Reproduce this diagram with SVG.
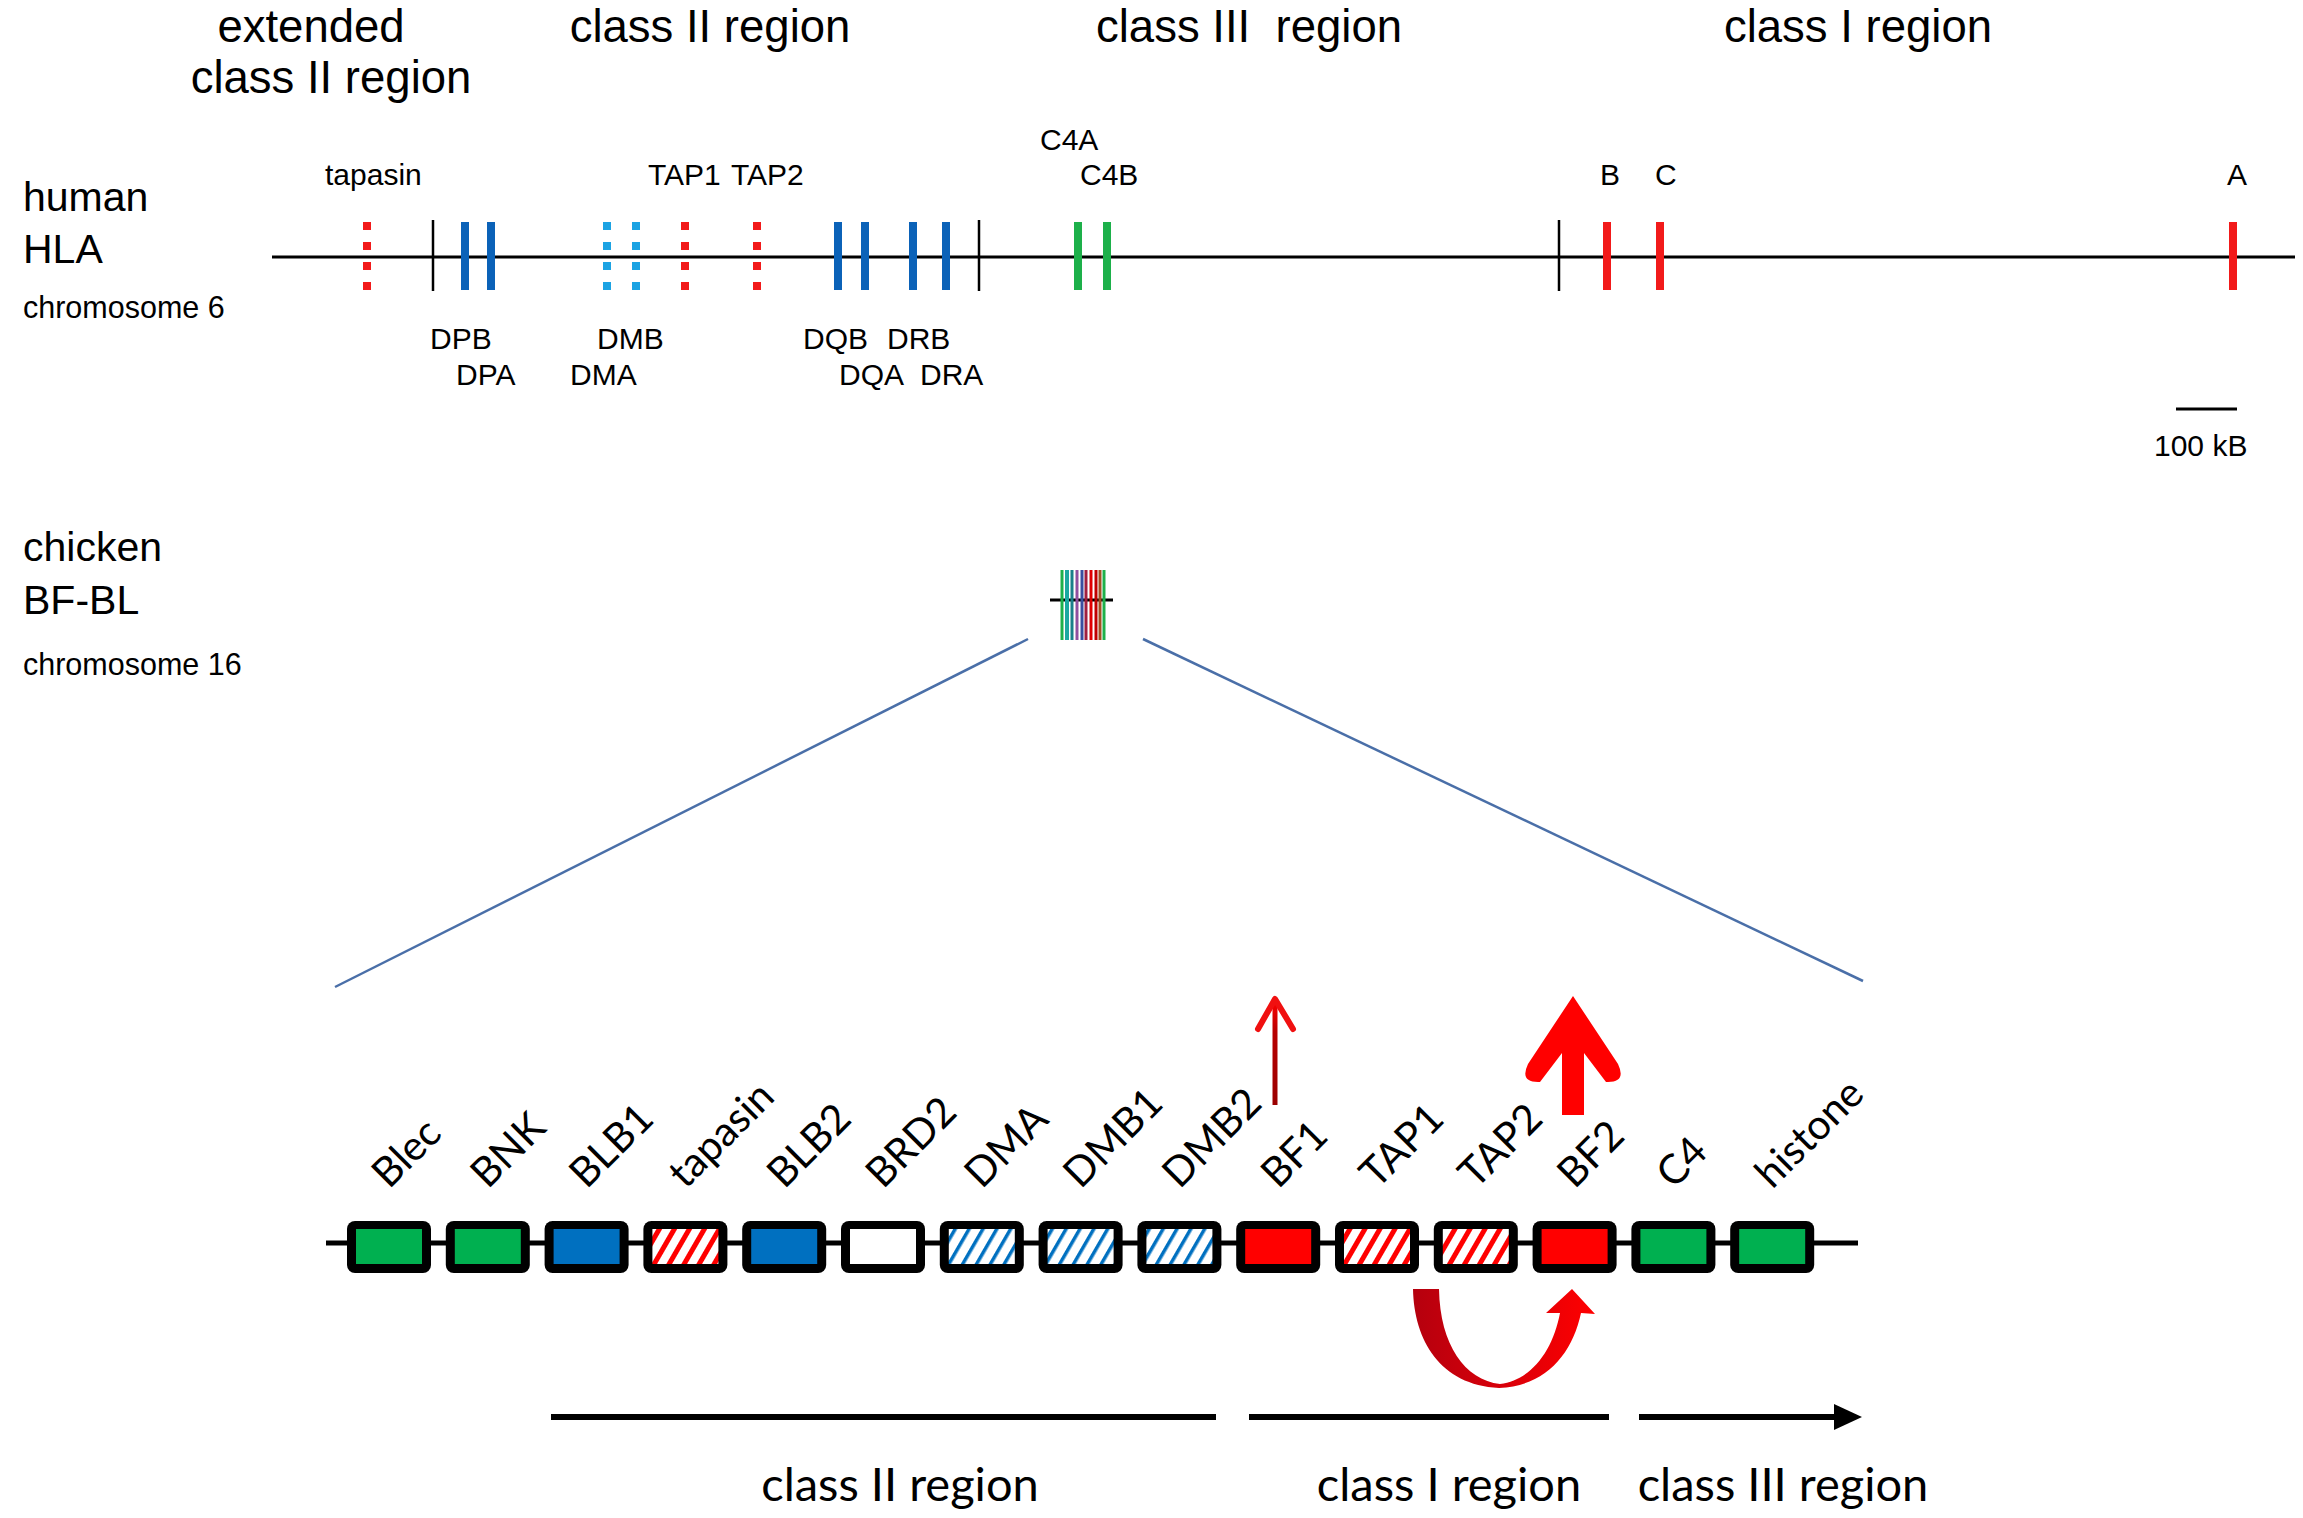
<svg xmlns="http://www.w3.org/2000/svg" width="2303" height="1518" viewBox="0 0 2303 1518">
<style>
.t{font-family:"Liberation Sans",Arial,sans-serif;fill:#000}
.title{font-size:45.5px;text-anchor:middle}
.sp{font-size:41px}
.chr{font-size:30.5px}
.gl{font-size:30px}
.cal{font-family:Lato,"Liberation Sans",sans-serif;fill:#000}
.glab{font-size:41px}
.reg{font-size:47px;text-anchor:middle}
.tick{stroke:#000;stroke-width:2.5}
.bar{stroke-width:8;fill:none}
.dot{stroke-dasharray:8 12}
.red{stroke:#F21A1A}
.dblue{stroke:#0B62B8}
.lblue{stroke:#1CA3E3}
.green{stroke:#1DB04A}
.box{fill:#000}
.fg{fill:#00B050}
.fb{fill:#0070C0}
.fr{fill:#FF0000}
.fw{fill:#FFFFFF}
.fhr{fill:url(#hatchRed)}
.fhb{fill:url(#hatchBlue)}
.zoom{stroke:#4A6FA8;stroke-width:2.5;fill:none}
.rline{stroke:#000;stroke-width:6;fill:none}
</style>
<defs>
<pattern id="hatchRed" patternUnits="userSpaceOnUse" width="13" height="13" patternTransform="rotate(30)">
<rect width="13" height="13" fill="#FFFFFF"/><rect width="5" height="13" fill="#FF0000"/>
</pattern>
<pattern id="hatchBlue" patternUnits="userSpaceOnUse" width="12" height="12" patternTransform="rotate(30)">
<rect width="12" height="12" fill="#FFFFFF"/><rect width="3.5" height="12" fill="#0070C0"/>
</pattern>
<linearGradient id="uGrad" x1="0" y1="0" x2="1" y2="0">
<stop offset="0" stop-color="#B5000E"/><stop offset="0.5" stop-color="#D9000A"/><stop offset="1" stop-color="#FF0000"/>
</linearGradient>
<linearGradient id="thinGrad" gradientUnits="userSpaceOnUse" x1="0" y1="1105" x2="0" y2="1000">
<stop offset="0" stop-color="#9A0000"/><stop offset="0.7" stop-color="#B80000"/><stop offset="1" stop-color="#FF0000"/>
</linearGradient>
</defs>
<rect width="2303" height="1518" fill="#FFFFFF"/>

<g id="titles" class="t title">
<text x="311" y="42">extended</text>
<text x="331" y="93">class II region</text>
<text x="710" y="42">class II region</text>
<text x="1249" y="42">class III&#160; region</text>
<text x="1858" y="42">class I region</text>
</g>

<g id="human-label" class="t">
<text class="sp" x="23" y="211">human</text>
<text class="sp" x="23" y="263">HLA</text>
<text class="chr" x="23" y="318">chromosome 6</text>
</g>

<g id="human-chromosome">
<line x1="272" y1="257" x2="2295" y2="257" stroke="#000" stroke-width="3"/>
<line class="tick" x1="433" y1="220" x2="433" y2="291"/>
<line class="tick" x1="979" y1="220" x2="979" y2="291"/>
<line class="tick" x1="1559" y1="220" x2="1559" y2="291"/>
</g>

<g id="hla-tapasin"><line class="bar red dot" x1="367" y1="222" x2="367" y2="290"/><text class="t gl" x="325" y="185">tapasin</text></g>
<g id="hla-DP"><line class="bar dblue" x1="465" y1="222" x2="465" y2="290"/><line class="bar dblue" x1="491" y1="222" x2="491" y2="290"/><text class="t gl" x="430" y="349">DPB</text><text class="t gl" x="456" y="385">DPA</text></g>
<g id="hla-DM"><line class="bar lblue dot" x1="607" y1="222" x2="607" y2="290"/><line class="bar lblue dot" x1="636" y1="222" x2="636" y2="290"/><text class="t gl" x="597" y="349">DMB</text><text class="t gl" x="570" y="385">DMA</text></g>
<g id="hla-TAP1"><line class="bar red dot" x1="685" y1="222" x2="685" y2="290"/><text class="t gl" x="648" y="185">TAP1</text></g>
<g id="hla-TAP2"><line class="bar red dot" x1="757" y1="222" x2="757" y2="290"/><text class="t gl" x="731" y="185">TAP2</text></g>
<g id="hla-DQ"><line class="bar dblue" x1="838" y1="222" x2="838" y2="290"/><line class="bar dblue" x1="865" y1="222" x2="865" y2="290"/><text class="t gl" x="803" y="349">DQB</text><text class="t gl" x="839" y="385">DQA</text></g>
<g id="hla-DR"><line class="bar dblue" x1="913" y1="222" x2="913" y2="290"/><line class="bar dblue" x1="946" y1="222" x2="946" y2="290"/><text class="t gl" x="887" y="349">DRB</text><text class="t gl" x="920" y="385">DRA</text></g>
<g id="hla-C4"><line class="bar green" x1="1078" y1="222" x2="1078" y2="290"/><line class="bar green" x1="1107" y1="222" x2="1107" y2="290"/><text class="t gl" x="1040" y="150">C4A</text><text class="t gl" x="1080" y="185">C4B</text></g>
<g id="hla-B"><line class="bar red" x1="1607" y1="222" x2="1607" y2="290"/><text class="t gl" x="1600" y="185">B</text></g>
<g id="hla-C"><line class="bar red" x1="1660" y1="222" x2="1660" y2="290"/><text class="t gl" x="1655" y="185">C</text></g>
<g id="hla-A"><line class="bar red" x1="2233" y1="222" x2="2233" y2="290"/><text class="t gl" x="2227" y="185">A</text></g>

<g id="scale-bar"><line x1="2176" y1="409" x2="2237" y2="409" stroke="#000" stroke-width="3"/><text class="t gl" x="2154" y="456">100 kB</text></g>

<g id="chicken-label" class="t">
<text class="sp" x="23" y="561">chicken</text>
<text class="sp" x="23" y="614">BF-BL</text>
<text class="chr" x="23" y="675">chromosome 16</text>
</g>

<g id="chicken-chromosome">
<line x1="1050" y1="600" x2="1113" y2="600" stroke="#000" stroke-width="3"/>
<g stroke-width="3">
<line x1="1062" y1="570" x2="1062" y2="640" stroke="#1DB04A"/>
<line x1="1067" y1="570" x2="1067" y2="640" stroke="#1AA8A0" stroke-width="4"/>
<line x1="1072" y1="570" x2="1072" y2="640" stroke="#1A7F8A"/>
<line x1="1077" y1="570" x2="1077" y2="640" stroke="#9050A0"/>
<line x1="1082" y1="570" x2="1082" y2="640" stroke="#3A4FA0"/>
<line x1="1086" y1="570" x2="1086" y2="640" stroke="#A02040"/>
<line x1="1091" y1="570" x2="1091" y2="640" stroke="#E00000"/>
<line x1="1096" y1="570" x2="1096" y2="640" stroke="#C00000"/>
<line x1="1100" y1="570" x2="1100" y2="640" stroke="#A05020"/>
<line x1="1104" y1="570" x2="1104" y2="640" stroke="#1DB04A"/>
</g>
</g>

<g id="connectors">
<line class="zoom" x1="1028" y1="639" x2="335" y2="987"/>
<line class="zoom" x1="1143" y1="639" x2="1863" y2="981"/>
<line x1="326" y1="1243" x2="1858" y2="1243" stroke="#000" stroke-width="5"/>
<line x1="1275" y1="1105" x2="1275" y2="1002" stroke="url(#thinGrad)" stroke-width="5"/>
<polyline points="1258,1029 1275,999 1293,1029" fill="none" stroke="#F01010" stroke-width="6" stroke-linecap="round" stroke-linejoin="round"/>
<path d="M1573,996 L1618,1064 Q1627,1083 1606,1082 L1584,1053 L1584,1115 L1562,1115 L1562,1053 L1540,1082 Q1519,1083 1528,1064 Z" fill="#FF0000"/>
<path d="M1413,1289 C1414,1340 1440,1385 1499,1388 C1545,1386 1572,1355 1581,1313 L1595,1314 L1572,1289 L1546,1313 L1560,1313 C1553,1350 1532,1380 1500,1384 C1465,1380 1440,1345 1439,1289 Z" fill="url(#uGrad)"/>
<line class="rline" x1="551" y1="1417" x2="1216" y2="1417"/>
<line class="rline" x1="1249" y1="1417" x2="1609" y2="1417"/>
<line class="rline" x1="1639" y1="1417" x2="1838" y2="1417"/>
<polygon points="1834,1404 1862,1417 1834,1430" fill="#000"/>
</g>

<g id="gene-Blec"><rect class="box" x="347" y="1221" width="84" height="52" rx="8"/><rect class="fg" x="356" y="1229" width="66" height="35"/><text class="cal glab" transform="translate(389,1190) rotate(-45)">Blec</text></g>
<g id="gene-BNK"><rect class="box" x="445.8" y="1221" width="84" height="52" rx="8"/><rect class="fg" x="454.8" y="1229" width="66" height="35"/><text class="cal glab" transform="translate(487.8,1190) rotate(-45)">BNK</text></g>
<g id="gene-BLB1"><rect class="box" x="544.6" y="1221" width="84" height="52" rx="8"/><rect class="fb" x="553.6" y="1229" width="66" height="35"/><text class="cal glab" transform="translate(586.6,1190) rotate(-45)">BLB1</text></g>
<g id="gene-tapasin"><rect class="box" x="643.4" y="1221" width="84" height="52" rx="8"/><rect class="fhr" x="652.4" y="1229" width="66" height="35"/><text class="cal glab" transform="translate(685.4,1190) rotate(-45)">tapasin</text></g>
<g id="gene-BLB2"><rect class="box" x="742.2" y="1221" width="84" height="52" rx="8"/><rect class="fb" x="751.2" y="1229" width="66" height="35"/><text class="cal glab" transform="translate(784.2,1190) rotate(-45)">BLB2</text></g>
<g id="gene-BRD2"><rect class="box" x="841" y="1221" width="84" height="52" rx="8"/><rect class="fw" x="850" y="1229" width="66" height="35"/><text class="cal glab" transform="translate(883,1190) rotate(-45)">BRD2</text></g>
<g id="gene-DMA"><rect class="box" x="939.8" y="1221" width="84" height="52" rx="8"/><rect class="fhb" x="948.8" y="1229" width="66" height="35"/><text class="cal glab" transform="translate(981.8,1190) rotate(-45)">DMA</text></g>
<g id="gene-DMB1"><rect class="box" x="1038.6" y="1221" width="84" height="52" rx="8"/><rect class="fhb" x="1047.6" y="1229" width="66" height="35"/><text class="cal glab" transform="translate(1080.6,1190) rotate(-45)">DMB1</text></g>
<g id="gene-DMB2"><rect class="box" x="1137.4" y="1221" width="84" height="52" rx="8"/><rect class="fhb" x="1146.4" y="1229" width="66" height="35"/><text class="cal glab" transform="translate(1179.4,1190) rotate(-45)">DMB2</text></g>
<g id="gene-BF1"><rect class="box" x="1236.2" y="1221" width="84" height="52" rx="8"/><rect class="fr" x="1245.2" y="1229" width="66" height="35"/><text class="cal glab" transform="translate(1278.2,1190) rotate(-45)">BF1</text></g>
<g id="gene-TAP1"><rect class="box" x="1335" y="1221" width="84" height="52" rx="8"/><rect class="fhr" x="1344" y="1229" width="66" height="35"/><text class="cal glab" transform="translate(1377,1190) rotate(-45)">TAP1</text></g>
<g id="gene-TAP2"><rect class="box" x="1433.8" y="1221" width="84" height="52" rx="8"/><rect class="fhr" x="1442.8" y="1229" width="66" height="35"/><text class="cal glab" transform="translate(1475.8,1190) rotate(-45)">TAP2</text></g>
<g id="gene-BF2"><rect class="box" x="1532.6" y="1221" width="84" height="52" rx="8"/><rect class="fr" x="1541.6" y="1229" width="66" height="35"/><text class="cal glab" transform="translate(1574.6,1190) rotate(-45)">BF2</text></g>
<g id="gene-C4"><rect class="box" x="1631.4" y="1221" width="84" height="52" rx="8"/><rect class="fg" x="1640.4" y="1229" width="66" height="35"/><text class="cal glab" transform="translate(1673.4,1190) rotate(-45)">C4</text></g>
<g id="gene-histone"><rect class="box" x="1730.2" y="1221" width="84" height="52" rx="8"/><rect class="fg" x="1739.2" y="1229" width="66" height="35"/><text class="cal glab" transform="translate(1772.2,1190) rotate(-45)">histone</text></g>

<g id="region-labels" class="cal reg">
<text x="900" y="1501">class II region</text>
<text x="1449" y="1501">class I region</text>
<text x="1783" y="1501">class III region</text>
</g>
</svg>
